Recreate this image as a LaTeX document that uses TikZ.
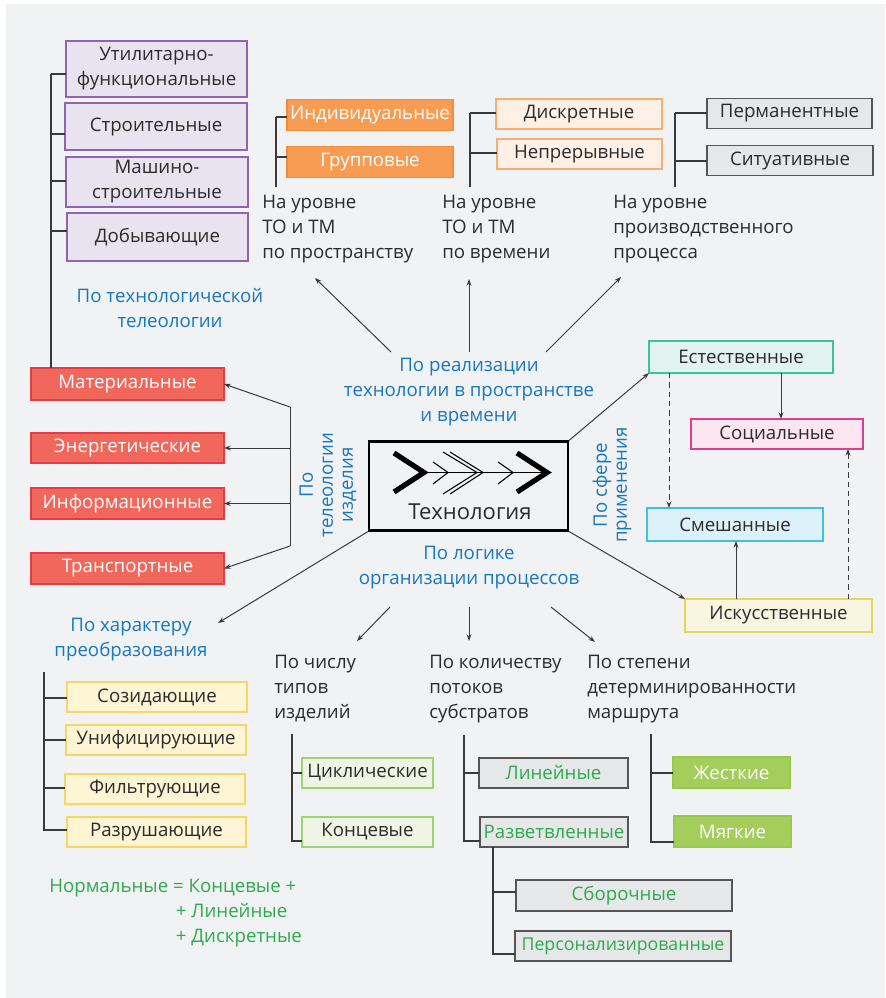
\documentclass[tikz,border=0pt]{standalone}
\usepackage{fontspec}
\setmainfont{Open Sans}
\usetikzlibrary{arrows.meta}
\definecolor{bgc}{HTML}{F1F2F4}
\definecolor{txt}{HTML}{2B2B2B}
\definecolor{lnc}{HTML}{3A3A3A}
\definecolor{bluet}{HTML}{1677C2}
\definecolor{greent}{HTML}{2DAA4D}
\definecolor{purF}{HTML}{E9E3F0}\definecolor{purD}{HTML}{9063B5}
\definecolor{redF}{HTML}{F1675B}\definecolor{redD}{HTML}{E83A44}
\definecolor{oraF}{HTML}{F79C52}\definecolor{oraD}{HTML}{F28B3A}
\definecolor{peaF}{HTML}{FDF0E6}\definecolor{peaD}{HTML}{F9AE70}
\definecolor{gryF}{HTML}{E6E7E8}\definecolor{gryD}{HTML}{555555}
\definecolor{yelF}{HTML}{FDF5D3}\definecolor{yelD}{HTML}{F8D567}
\definecolor{lgrF}{HTML}{EEF5E4}\definecolor{lgrD}{HTML}{9BD472}
\definecolor{grnF}{HTML}{A3CE5B}\definecolor{grnD}{HTML}{97C94E}
\definecolor{teaF}{HTML}{E2F2EE}\definecolor{teaD}{HTML}{3CC39B}
\definecolor{magF}{HTML}{FCE6F0}\definecolor{magD}{HTML}{E23C8E}
\definecolor{cyaF}{HTML}{DDF1FA}\definecolor{cyaD}{HTML}{3FBFEC}
\definecolor{ylwF}{HTML}{F8F6E1}\definecolor{ylwD}{HTML}{E3D65D}
\newcommand\txtsz{\fontsize{14}{18.75}\selectfont}
\newcommand\rotsz{\fontsize{14}{15}\selectfont}
\begin{document}
\begin{tikzpicture}[x=0.75pt,y=-0.75pt,
  wh/.style 2 args={minimum width={#1*0.75pt}, minimum height={#2*0.75pt}},
  box/.style={draw, line width=0.9pt, inner sep=0pt, outer sep=0pt,
    font=\txtsz, align=center, text=txt},
  pur/.style={box, fill=purF, draw=purD},
  red/.style={box, fill=redF, draw=redD, text=white},
  ora/.style={box, fill=oraF, draw=oraD, text=white},
  pea/.style={box, fill=peaF, draw=peaD},
  gry/.style={box, fill=gryF, draw=gryD},
  gryg/.style={box, fill=gryF, draw=gryD, text=greent},
  yel/.style={box, fill=yelF, draw=yelD},
  lgr/.style={box, fill=lgrF, draw=lgrD},
  grn/.style={box, fill=grnF, draw=grnD, text=white},
  tea/.style={box, fill=teaF, draw=teaD},
  mag/.style={box, fill=magF, draw=magD},
  cya/.style={box, fill=cyaF, draw=cyaD},
  ylw/.style={box, fill=ylwF, draw=ylwD},
  cat/.style={font=\txtsz, text=bluet, align=center, inner sep=0pt},
  rcat/.style={font=\rotsz, text=bluet, align=center, inner sep=0pt, rotate=90},
  lvl/.style={font=\txtsz, text=txt, align=left, inner sep=0pt, anchor=west},
  tree/.style={draw=lnc, line width=0.9pt},
  arr/.style={draw=lnc, line width=0.75pt, -{Stealth[length=5pt,width=3.6pt]}},
  darr/.style={arr, dash pattern=on 4pt off 3pt},
  chev/.style={line width=3.9pt, miter limit=10, line join=miter},
  thin/.style={line width=0.8pt}
]
\useasboundingbox (0,0) rectangle (885,998);
\fill[white] (0,0) rectangle (885,998);
\fill[bgc] (6,4) rectangle (885,998);

% ---------- technological teleology (purple) ----------
\node[pur, wh={181}{56}] (u1) at (156.5,69) {Утилитарно-\\функциональные};
\node[pur, wh={182}{47}] (u2) at (156,126.5) {Строительные};
\node[pur, wh={182}{50}] (u3) at (157,182) {Машино-\\строительные};
\node[pur, wh={181}{48}] (u4) at (157.5,237) {Добывающие};
\node[cat] (teleo) at (170,308.5) {По технологической\\телеологии};

% ---------- product teleology (red) ----------
\node[red, wh={193}{32}] (m1) at (127.5,384) {Материальные};
\node[red, wh={193}{30}] (m2) at (127.5,448) {Энергетические};
\node[red, wh={193}{31}] (m3) at (127.5,503.5) {Информационные};
\node[red, wh={193}{31}] (m4) at (127.5,568.5) {Транспортные};
\node[rcat] (prodteleo) at (328,485) {По\\телеологии\\изделия};

\coordinate (pa) at (51,74);
\coordinate (pb) at (51,134);
\coordinate (pc) at (51,181);
\coordinate (pd) at (51,231);
\draw[tree] (pa) -- (pa |- m1.north);
\draw[tree] (pa) -- (pa -| u1.west);
\draw[tree] (pb) -- (pb -| u2.west);
\draw[tree] (pc) -- (pc -| u3.west);
\draw[tree] (pd) -- (pd -| u4.west);

\coordinate (ra) at (290,407);
\coordinate (rb) at (290,546);
\draw[tree, line width=0.75pt] (ra) -- (rb);
\draw[arr] (ra) -- (m1.east);
\draw[arr] (ra |- m2.east) -- (m2.east);
\draw[arr] (ra |- m3.east) -- (m3.east);
\draw[arr] (rb) -- (m4.east);

% ---------- central node ----------
\node[draw=black, line width=1.6pt, inner sep=0pt, wh={199}{89}] (T) at (468.5,486) {};
\node[font=\fontsize{16.5}{18}\selectfont, text=txt, inner sep=0pt] (Tlbl) at (470,512) {Технология};
\draw[chev] (394,453) -- (424,472.5) -- (394,492);
\draw[chev] (517,453) -- (547,472.5) -- (517,492);
\draw[thin] (424,472.5) -- (548,472.5);
\draw[thin] (433,462) -- (448,472.5) -- (433,484);
\draw[thin] (443,452) -- (477,472.5) -- (443,494);
\draw[thin] (450,452) -- (483,472.5) -- (450,494);
\draw[thin] (498,462) -- (513,472.5) -- (498,484);

\node[cat] (realiz) at (469,392) {По реализации\\технологии в пространстве\\и времени};
\node[cat] (logic) at (469,567.5) {По логике\\организации процессов};
\node[rcat] (sphere) at (612,485) {По сфере\\применения};

% ---------- space and time (top) ----------
\node[lvl] (s1) at (262,229) {На уровне\\ТО и ТМ\\по пространству};
\node[lvl] (s2) at (442,229) {На уровне\\ТО и ТМ\\по времени};
\node[lvl] (s3) at (613,229) {На уровне\\производственного\\процесса};

\coordinate (q1) at (391,352);
\coordinate (q1e) at (315,278);
\coordinate (q2) at (469,352);
\coordinate (q2e) at (469,279);
\coordinate (q3) at (546,352);
\coordinate (q3e) at (621,277);
\draw[arr] (q1) -- (q1e);
\draw[arr] (q2) -- (q2e);
\draw[arr] (q3) -- (q3e);

\node[ora, wh={166}{31}] (o1) at (370,115) {Индивидуальные};
\node[ora, wh={166}{31}] (o2) at (370,162) {Групповые};
\coordinate (oa) at (276,117);
\coordinate (ob) at (276,157);
\coordinate (oc) at (276,187);
\draw[tree] (oa) -- (oc);
\draw[tree] (oa) -- (oa -| o1.west);
\draw[tree] (ob) -- (ob -| o2.west);

\node[pea, wh={166}{30}] (d1) at (579,114) {Дискретные};
\node[pea, wh={165}{30}] (d2) at (579.5,154) {Непрерывные};
\coordinate (da) at (470,113);
\coordinate (db) at (470,153);
\coordinate (dc) at (470,187);
\draw[tree] (da) -- (dc);
\draw[tree] (da) -- (da -| d1.west);
\draw[tree] (db) -- (db -| d2.west);

\node[gry, wh={165}{30}] (g1) at (789.5,113.5) {Перманентные};
\node[gry, wh={166}{30}] (g2) at (790,160.5) {Ситуативные};
\coordinate (ga) at (675,113);
\coordinate (gb) at (675,161);
\coordinate (gc) at (675,187);
\draw[tree] (ga) -- (gc);
\draw[tree] (ga) -- (ga -| g1.west);
\draw[tree] (gb) -- (gb -| g2.west);

% ---------- sphere of application (right) ----------
\node[tea, wh={184}{32}] (e1) at (741,357) {Естественные};
\node[mag, wh={172}{30}] (e2) at (777,434) {Социальные};
\node[cya, wh={176}{33}] (e3) at (735,524.5) {Смешанные};
\node[ylw, wh={187}{33}] (e4) at (778.5,615.5) {Искусственные};
\draw[arr] (T.north east) -- (e1.south west);
\draw[arr] (T.south east) -- (e4.north west);
\coordinate (x1) at (781,373);
\coordinate (x2) at (669,373);
\coordinate (x3) at (736,599);
\coordinate (x4) at (848,599);
\draw[arr] (x1) -- (x1 |- e2.north);
\draw[darr] (x2) -- (x2 |- e3.north);
\draw[arr] (x3) -- (x3 |- e3.south);
\draw[darr] (x4) -- (x4 |- e2.south);

% ---------- kind of transformation (bottom left) ----------
\node[cat] (transf) at (131,639.5) {По характеру\\преобразования};
\coordinate (he) at (218,623);
\draw[arr] (T.south west) -- (he);
\node[yel, wh={180}{30}] (y1) at (157,697) {Созидающие};
\node[yel, wh={180}{30}] (y2) at (156,740) {Унифицирующие};
\node[yel, wh={180}{30}] (y3) at (155,789) {Фильтрующие};
\node[yel, wh={179}{30}] (y4) at (156.5,832) {Разрушающие};
\coordinate (ya) at (44,672);
\coordinate (yb) at (44,698);
\coordinate (yc) at (44,740);
\coordinate (yd) at (44,788);
\coordinate (ye) at (44,830);
\draw[tree] (ya) -- (ye) -- (ye -| y4.west);
\draw[tree] (yb) -- (yb -| y1.west);
\draw[tree] (yc) -- (yc -| y2.west);
\draw[tree] (yd) -- (yd -| y3.west);

% ---------- process organisation (bottom) ----------
\coordinate (w1) at (390,607);
\coordinate (w1e) at (357,641);
\coordinate (w2) at (469,607);
\coordinate (w2e) at (469,641);
\coordinate (w3) at (551,607);
\coordinate (w3e) at (595,642);
\draw[arr] (w1) -- (w1e);
\draw[arr] (w2) -- (w2e);
\draw[arr] (w3) -- (w3e);

\node[lvl] (b1) at (274,689) {По числу\\типов\\изделий};
\node[lvl] (b2) at (429,689) {По количеству\\потоков\\субстратов};
\node[lvl] (b3) at (587,689) {По степени\\детерминированности\\маршрута};

\node[lgr, wh={131}{30}] (c1) at (367.5,773) {Циклические};
\node[lgr, wh={131}{30}] (c2) at (367.5,832) {Концевые};
\coordinate (ca) at (292,734);
\coordinate (cb) at (292,773);
\coordinate (cc) at (292,841);
\draw[tree] (ca) -- (cc) -- (cc -| c2.west);
\draw[tree] (cb) -- (cb -| c1.west);

\node[gryg, wh={149}{30}] (l1) at (553.5,773) {Линейные};
\node[gryg, wh={148}{30}] (l2) at (554,832) {Разветвленные};
\coordinate (la) at (464,735);
\coordinate (lb) at (464,773);
\coordinate (lc) at (464,841);
\draw[tree] (la) -- (lc) -- (lc -| l2.west);
\draw[tree] (lb) -- (lb -| l1.west);

\node[gryg, wh={216}{31}] (k1) at (624,895.5) {Сборочные};
\node[gryg, wh={216}{30}, font=\fontsize{13.3}{18.75}\selectfont] (k2) at (623,946) {Персонализированные};
\coordinate (ka) at (493,847);
\coordinate (kb) at (493,892);
\coordinate (kc) at (493,954);
\draw[tree] (ka) -- (kc) -- (kc -| k2.west);
\draw[tree] (kb) -- (kb -| k1.west);

\node[grn, wh={117}{31}] (j1) at (731.5,772.5) {Жесткие};
\node[grn, wh={117}{31}] (j2) at (732.5,831.5) {Мягкие};
\coordinate (ja) at (651,734);
\coordinate (jb) at (651,773);
\coordinate (jc) at (651,842);
\draw[tree] (ja) -- (jc) -- (jc -| j2.west);
\draw[tree] (jb) -- (jb -| j1.west);

% ---------- formula ----------
\node[font=\txtsz, text=greent, align=left, inner sep=0pt, anchor=west] (norm) at (49,913)
  {Нормальные = Концевые +\\\hspace*{95pt}+ Линейные\\\hspace*{95pt}+ Дискретные};
\end{tikzpicture}
\end{document}
